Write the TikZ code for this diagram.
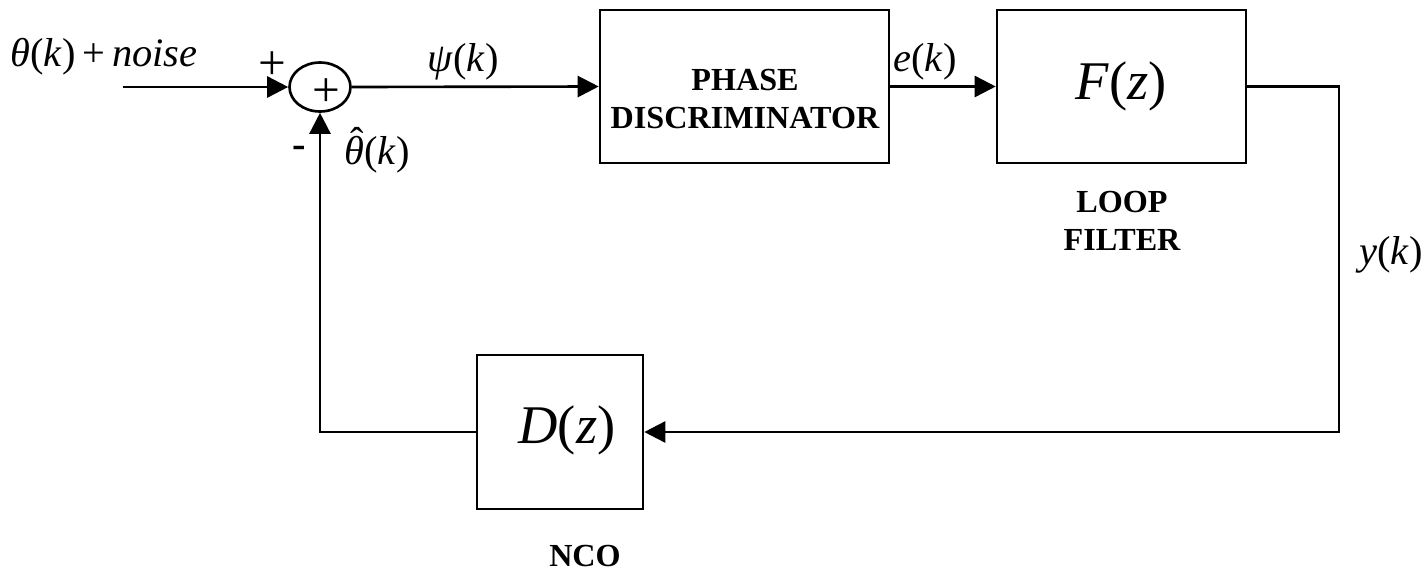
\documentclass[tikz,border=0pt]{standalone}
\usepackage{fontspec}
\setmainfont{Liberation Serif}
\usetikzlibrary{arrows.meta,shapes.geometric}
\tikzset{
  blk/.style={draw,line width=1.5pt,inner sep=0pt,minimum height=3.06cm},
  wire/.style={line width=1.5pt},
  arr/.style={wire,-{Triangle[length=12pt,width=12pt]}},
  lbl/.style={inner sep=0pt,font=\fontsize{23}{26}\selectfont},
  sgn/.style={inner sep=0pt,font=\fontsize{28}{30}\selectfont},
  captxt/.style={inner sep=0pt,align=center,font=\fontsize{18.3}{21.5}\selectfont\bfseries},
  bigtxt/.style={inner sep=0pt,font=\fontsize{31}{34}\selectfont}
}
\newcommand\hattheta{\makebox[0pt][l]{\hspace{0.14em}\raisebox{0.22em}{ˆ}}\textit{θ}}
\begin{document}
\begin{tikzpicture}[x=0.02cm,y=-0.02cm]
\useasboundingbox (0,0) rectangle (1426,572);
% blocks
\node[draw,ellipse,line width=1.5pt,inner sep=0pt,minimum width=1.22cm,minimum height=0.98cm] (sum) at (320,87) {};
\node[blk,minimum width=5.78cm] (pd) at (744.5,86.5) {};
\node[blk,minimum width=4.98cm] (lf) at (1121.5,86.5) {};
\node[blk,minimum width=3.32cm,minimum height=3.08cm] (nco) at (560,432) {};
% block texts
\node[captxt] (pdt) at (745,99) {PHASE\\DISCRIMINATOR};
\node[bigtxt] (ft) at (1121,86) {\textit{F}(\textit{z})};
\node[bigtxt] (dt) at (567,430) {\textit{D}(\textit{z})};
\node[captxt] (lft) at (1122,221) {LOOP\\FILTER};
\node[captxt] (ncot) at (585,556) {NCO};
% coordinates
\coordinate (in) at (123,87);
\coordinate (cr) at (1339,432);
% connectors
\draw[arr] (in) -- (sum.west);
\draw[arr] (sum.east) -- (pd.west);
\draw[arr] (pd.east) -- (lf.west);
\draw[arr] (lf.east) -| (cr) -- (nco.east);
\draw[arr] (nco.west) -| (sum.south);
% labels
\node[lbl] (lin) at (104,57) {\textit{θ}(\textit{k})\,+\,\textit{noise}};
\node[sgn] (lplus) at (272,66) {+};
\node[sgn] (lplus2) at (326,93) {+};
\node[lbl,font=\fontsize{23}{26}\selectfont\bfseries] (lminus) at (299,152) {-};
\node[lbl] (lhat) at (377,150) {\hattheta(\textit{k})};
\node[lbl] (lpsi) at (463,62) {\textit{ψ}(\textit{k})};
\node[lbl] (le) at (925,62) {\textit{e}(\textit{k})};
\node[lbl] (ly) at (1391,255) {\textit{y}(\textit{k})};
\end{tikzpicture}
\end{document}
